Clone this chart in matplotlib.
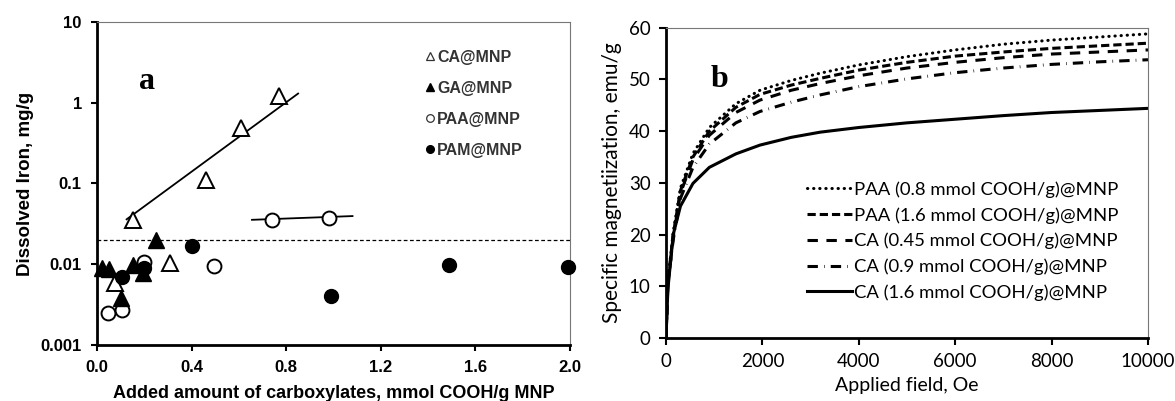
import numpy as np
import matplotlib
matplotlib.use("Agg")
import matplotlib.pyplot as plt
from matplotlib.lines import Line2D
from matplotlib.ticker import FixedLocator, FixedFormatter

# ---- panel a: dissolved iron vs added carboxylates ----
ca_x = [0.15, 0.46, 0.61, 0.77, 0.31, 0.076]
ca_y = [0.035, 0.11, 0.48, 1.22, 0.0103, 0.0059]
ga_x = [0.02, 0.05, 0.15, 0.195, 0.10, 0.25]
ga_y = [0.0089, 0.0088, 0.0098, 0.0079, 0.0038, 0.0198]
paa_x = [0.74, 0.98, 0.495, 0.20, 0.045, 0.104]
paa_y = [0.035, 0.037, 0.0096, 0.0106, 0.0025, 0.0027]
pam_x = [0.104, 0.20, 0.40, 0.99, 1.49, 1.99]
pam_y = [0.0069, 0.0091, 0.0168, 0.0041, 0.0099, 0.0093]

ca_fit_x = [0.125, 0.85]
ca_fit_y = [0.036, 1.3]
paa_fit_x = [0.655, 1.08]
paa_fit_y = [0.0355, 0.0395]
limit_y = 0.02

# ---- panel b: magnetization curves ----
field = [0, 40, 150, 300, 560, 900, 1450, 1950, 2600, 3200, 4000, 5000, 6000, 7000, 8000, 9000, 10000]
m_paa08 = [0, 11, 20.5, 29.0, 35.7, 40.7, 45.3, 47.9, 49.8, 51.2, 52.8, 54.4, 55.7, 56.8, 57.6, 58.2, 58.8]
m_paa16 = [0, 11, 20.0, 28.5, 35.0, 40.0, 44.6, 47.1, 48.9, 50.2, 51.8, 53.3, 54.5, 55.3, 56.0, 56.5, 57.0]
m_ca045 = [0, 10.5, 19.5, 28.0, 34.5, 39.2, 43.6, 46.0, 47.9, 49.2, 50.7, 52.2, 53.3, 54.2, 54.9, 55.3, 55.7]
m_ca09 = [0, 10.5, 19.0, 27.0, 33.0, 37.5, 41.6, 43.8, 45.6, 47.0, 48.6, 50.1, 51.3, 52.2, 52.9, 53.4, 53.8]
m_ca16 = [0, 9.5, 20.0, 25.5, 29.9, 33.0, 35.6, 37.3, 38.8, 39.8, 40.7, 41.6, 42.3, 43.0, 43.6, 44.0, 44.4]
labels_b = ["PAA (0.8 mmol COOH/g)@MNP", "PAA (1.6 mmol COOH/g)@MNP",
            "CA (0.45 mmol COOH/g)@MNP", "CA (0.9 mmol COOH/g)@MNP",
            "CA (1.6 mmol COOH/g)@MNP"]

fig = plt.figure(figsize=(11.75, 4.01), dpi=100)
ax1 = fig.add_axes([0.0826, 0.1397, 0.4026, 0.8054])
ax2 = fig.add_axes([0.5668, 0.157, 0.4102, 0.774])

SANS = "Liberation Sans"
SERIF = "Liberation Serif"
BFONT = "Lato"

# panel a
ax1.plot(ca_fit_x, ca_fit_y, color="black", lw=1.3, zorder=2)
ax1.plot(paa_fit_x, paa_fit_y, color="black", lw=1.3, zorder=2)
ax1.axhline(limit_y, color="black", lw=0.9, ls=(0, (3, 2)), zorder=1)
ax1.plot(ca_x, ca_y, ls="none", marker="^", ms=12, mfc="white", mec="black", mew=1.4, zorder=3, clip_on=False)
ax1.plot(paa_x, paa_y, ls="none", marker="o", ms=10, mfc="white", mec="black", mew=1.4, zorder=3, clip_on=False)
ax1.plot(ga_x, ga_y, ls="none", marker="^", ms=12, mfc="black", mec="black", zorder=4, clip_on=False)
ax1.plot(pam_x, pam_y, ls="none", marker="o", ms=10, mfc="black", mec="black", zorder=4, clip_on=False)

ax1.set_yscale("log")
ax1.set_ylim(0.001, 10)
ax1.set_xlim(0, 2.0)
ax1.yaxis.set_major_locator(FixedLocator([0.001, 0.01, 0.1, 1, 10]))
ax1.yaxis.set_major_formatter(FixedFormatter(["0.001", "0.01", "0.1", "1", "10"]))
ax1.yaxis.set_minor_locator(FixedLocator([]))
ax1.set_xticks(np.arange(0, 2.01, 0.4))
ax1.set_xticklabels(["0.0", "0.4", "0.8", "1.2", "1.6", "2.0"])
for lab in ax1.get_xticklabels() + ax1.get_yticklabels():
    lab.set_fontfamily(SANS)
    lab.set_fontweight("bold")
    lab.set_fontsize(12)
ax1.tick_params(direction="out", length=4, width=1.5, pad=7)
ax1.set_ylabel("Dissolved Iron, mg/g", family=SANS, weight="bold", fontsize=13.5, labelpad=5)
ax1.set_xlabel("Added amount of carboxylates, mmol COOH/g MNP", family=SANS, weight="bold",
               fontsize=13, labelpad=7)
for s in ["left", "bottom"]:
    ax1.spines[s].set_linewidth(2)
for s in ["top", "right"]:
    ax1.spines[s].set_linewidth(0.8)
    ax1.spines[s].set_color("#777777")
ax1.text(0.106, 0.815, "a", transform=ax1.transAxes, family=SERIF, weight="bold", fontsize=23,
         ha="center", va="center")

handles_a = [
    Line2D([], [], ls="none", marker="^", ms=6, mfc="white", mec="#333333", mew=0.9),
    Line2D([], [], ls="none", marker="^", ms=6, mfc="black", mec="black"),
    Line2D([], [], ls="none", marker="o", ms=5.5, mfc="white", mec="#333333", mew=0.9),
    Line2D([], [], ls="none", marker="o", ms=5.5, mfc="black", mec="black"),
]
leg_a = ax1.legend(handles_a, ["CA@MNP", "GA@MNP", "PAA@MNP", "PAM@MNP"], loc="upper left",
                   bbox_to_anchor=(0.67, 0.949), frameon=False, handlelength=0.6,
                   handletextpad=0.15, labelspacing=1.0, borderpad=0.2,
                   prop={"family": SANS, "weight": "bold", "size": 11.5})
for t in leg_a.get_texts():
    t.set_color("#333333")

# panel b
styles = [(0, (0.1, 1.9)), (0, (2.7, 1.3)), (0, (3.4, 2.8)), (0, (3.4, 2.0, 0.2, 2.0)), "-"]
caps = ["round", "butt", "butt", "butt", "butt"]
series_b = [m_paa08, m_paa16, m_ca045, m_ca09, m_ca16]
for m, ls, cap, lab in zip(series_b, styles, caps, labels_b):
    ax2.plot(field, m, color="black", lw=2.2, ls=ls, dash_capstyle=cap, label=lab)

ax2.set_xlim(0, 10000)
ax2.set_ylim(0, 60)
ax2.set_xticks(np.arange(0, 10001, 2000))
ax2.set_yticks(np.arange(0, 61, 10))
for lab in ax2.get_xticklabels() + ax2.get_yticklabels():
    lab.set_fontfamily(BFONT)
    lab.set_fontsize(13.5)
ax2.tick_params(direction="out", length=5, width=1.5, pad=6)
ax2.set_ylabel("Specific magnetiization, emu/g", family=BFONT, fontsize=15, labelpad=5)
ax2.set_xlabel("Applied field, Oe", family=BFONT, fontsize=14, labelpad=5)
for s in ["left", "bottom"]:
    ax2.spines[s].set_linewidth(2)
for s in ["top", "right"]:
    ax2.spines[s].set_linewidth(0.8)
    ax2.spines[s].set_color("#777777")
ax2.text(0.112, 0.832, "b", transform=ax2.transAxes, family=SERIF, weight="bold", fontsize=23,
         ha="center", va="center")
ax2.legend(loc="upper right", bbox_to_anchor=(0.965, 0.547), frameon=False, handlelength=2.4,
           handletextpad=0.1, labelspacing=0.5, borderpad=0.2,
           prop={"family": BFONT, "size": 13.3})

fig.savefig("out.png", dpi=100)
